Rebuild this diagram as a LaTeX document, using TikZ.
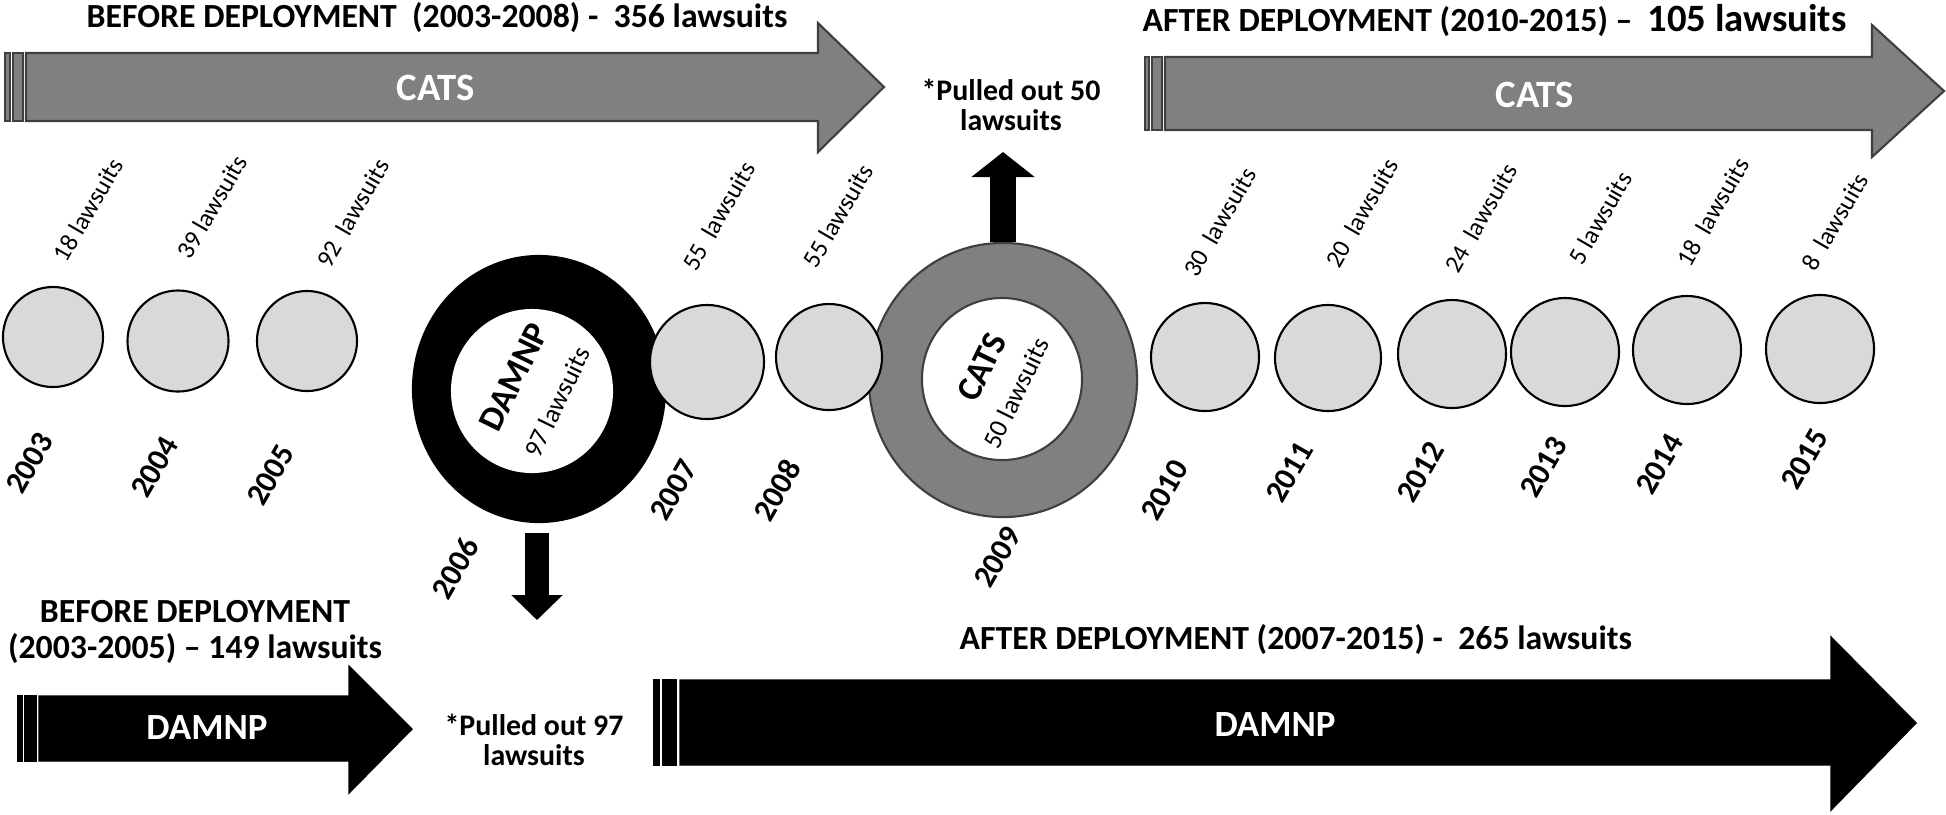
\documentclass[tikz,border=0pt]{standalone}
\usepackage{fontspec}
\setmainfont{Carlito}
\usetikzlibrary{shapes.geometric,arrows.meta}
\definecolor{lightc}{HTML}{D9D9D9}
\definecolor{midgray}{HTML}{808080}
\definecolor{edgegray}{HTML}{3F3F3F}
\begin{document}
\begin{tikzpicture}[x=0.01cm,y=-0.01cm]
\useasboundingbox (0,0) rectangle (1946,814);
\tikzset{
  yrcirc/.style={circle, draw=black, line width=0.6pt, fill=lightc, inner sep=0pt},
  yearlbl/.style={rotate=60, inner sep=0pt, font=\fontsize{9}{10}\selectfont\bfseries},
  suitlbl/.style={rotate=60, inner sep=0pt, font=\fontsize{7.2}{8}\selectfont},
  titlelbl/.style={inner sep=0pt, font=\fontsize{9.6}{10}\selectfont\bfseries},
  pulledlbl/.style={inner sep=0pt, align=center, font=\fontsize{8.5}{8.6}\selectfont\bfseries},
  arrowtxt/.style={text=white, inner sep=0pt, font=\fontsize{10.5}{12}\selectfont\bfseries},
  grayarrow/.style={fill=midgray, draw=edgegray, line width=0.6pt},
  blackarrow/.style={fill=black, draw=black, line width=0.4pt},
  blockup/.style={draw=black, line width=0.26cm, -{Triangle[width=0.62cm,length=0.25cm]}},
  blockdown/.style={draw=black, line width=0.24cm, -{Triangle[width=0.5cm,length=0.25cm]}}
}
% ---------------- top-left CATS arrow ----------------
\path[grayarrow] (5,53) rectangle (10,121);
\path[grayarrow] (13,53) rectangle (23,121);
\path[grayarrow] (26,53) -- (818,53) -- (818,23) -- (884,87) -- (818,152) -- (818,121) -- (26,121) -- cycle;
\node[arrowtxt, font=\fontsize{11}{12}\selectfont\bfseries] (cats1) at (436,88) {CATS};
\node[titlelbl, anchor=west] (title1) at (86,18) {BEFORE DEPLOYMENT\ \ (2003-2008) -\ \ 356 lawsuits};
% ---------------- top-right CATS arrow ----------------
\path[grayarrow] (1145,57) rectangle (1149,130);
\path[grayarrow] (1152,57) rectangle (1162,130);
\path[grayarrow] (1165,57) -- (1872,57) -- (1872,25) -- (1944,91) -- (1872,157) -- (1872,130) -- (1165,130) -- cycle;
\node[arrowtxt, font=\fontsize{11}{12}\selectfont\bfseries] (cats2) at (1535,95) {CATS};
\node[titlelbl, anchor=west] (title2) at (1142,20) {AFTER DEPLOYMENT (2010-2015) --\ \ {\fontsize{11}{12}\selectfont 105 lawsuits}};
% ---------------- bottom-left DAMNP arrow ----------------
\path[blackarrow] (18,696) rectangle (22,761);
\path[blackarrow] (25,696) rectangle (36,761);
\path[blackarrow] (39,696) -- (349,696) -- (349,666) -- (412,729) -- (349,793) -- (349,761) -- (39,761) -- cycle;
\node[arrowtxt] (damnp1) at (207,728) {DAMNP};
\node[titlelbl, align=center] (title3) at (195,632) {BEFORE DEPLOYMENT\\(2003-2005) -- 149 lawsuits};
% ---------------- bottom-right DAMNP arrow ----------------
\path[blackarrow] (654,680) rectangle (659,765);
\path[blackarrow] (663,680) rectangle (676,765);
\path[blackarrow] (680,680) -- (1831,680) -- (1831,637) -- (1916,723) -- (1831,810) -- (1831,765) -- (680,765) -- cycle;
\node[arrowtxt] (damnp2) at (1275,725) {DAMNP};
\node[titlelbl, anchor=west] (title4) at (959,640) {AFTER DEPLOYMENT (2007-2015) -\ \ 265 lawsuits};
% ---------------- rings ----------------
\node[ellipse, fill=black, inner sep=0pt, minimum width=2.54cm, minimum height=2.68cm] (ring06) at (539,389) {};
\node[ellipse, fill=white, inner sep=0pt, minimum width=1.62cm, minimum height=1.64cm] (in06) at (532,391) {};
\node[rotate=64, inner sep=0pt, font=\fontsize{10}{11}\selectfont\bfseries] (r06a) at (514,377) {DAMNP};
\node[rotate=64, inner sep=0pt, font=\fontsize{7.5}{8}\selectfont] (r06b) at (557,402) {97 lawsuits};
\node[ellipse, fill=midgray, draw=edgegray, line width=0.6pt, inner sep=0pt, minimum width=2.68cm, minimum height=2.74cm] (ring09) at (1003,380) {};
\node[ellipse, fill=white, draw=edgegray, line width=0.6pt, inner sep=0pt, minimum width=1.60cm, minimum height=1.62cm] (in09) at (1002,379) {};
\node[rotate=64, inner sep=0pt, font=\fontsize{10}{11}\selectfont\bfseries] (r09a) at (982,367) {CATS};
\node[rotate=64, inner sep=0pt, font=\fontsize{7.5}{8}\selectfont] (r09b) at (1016,393) {50 lawsuits};
% ---------------- year circles ----------------
\node[yrcirc, minimum size=1.00cm] (c2003) at (53,337) {};
\node[yrcirc, minimum size=1.01cm] (c2004) at (178,341) {};
\node[yrcirc, minimum size=1.00cm] (c2005) at (307,341) {};
\node[yrcirc, minimum size=1.14cm] (c2007) at (707,362) {};
\node[yrcirc, minimum size=1.06cm] (c2008) at (829,357) {};
\node[yrcirc, minimum size=1.08cm] (c2010) at (1205,357) {};
\node[yrcirc, minimum size=1.06cm] (c2011) at (1328,358) {};
\node[yrcirc, minimum size=1.08cm] (c2012) at (1452,354) {};
\node[yrcirc, minimum size=1.08cm] (c2013) at (1565,352) {};
\node[yrcirc, minimum size=1.08cm] (c2014) at (1687,350) {};
\node[yrcirc, minimum size=1.08cm] (c2015) at (1820,349) {};
% ---------------- lawsuit labels ----------------
\node[suitlbl] (s2003) at (88,210) {18 lawsuits};
\node[suitlbl] (s2004) at (212,207) {39 lawsuits};
\node[suitlbl] (s2005) at (353,213) {92\ \ lawsuits};
\node[suitlbl] (s2007) at (719,216) {55\ \ lawsuits};
\node[suitlbl] (s2008) at (838,216) {55 lawsuits};
\node[suitlbl] (s2010) at (1220,222) {30\ \ lawsuits};
\node[suitlbl] (s2011) at (1362,213) {20\ \ lawsuits};
\node[suitlbl] (s2012) at (1481,218) {24\ \ lawsuits};
\node[suitlbl] (s2013) at (1600,218) {5 lawsuits};
\node[suitlbl] (s2014) at (1713,212) {18\ \ lawsuits};
\node[suitlbl] (s2015) at (1835,222) {8\ \ lawsuits};
% ---------------- year labels ----------------
\node[yearlbl] (y2003) at (30,463) {2003};
\node[yearlbl] (y2004) at (155,467) {2004};
\node[yearlbl] (y2005) at (271,475) {2005};
\node[yearlbl] (y2006) at (455,568) {2006};
\node[yearlbl] (y2007) at (674,490) {2007};
\node[yearlbl] (y2008) at (777,490) {2008};
\node[yearlbl] (y2009) at (998,557) {2009};
\node[yearlbl] (y2010) at (1165,490) {2010};
\node[yearlbl] (y2011) at (1290,472) {2011};
\node[yearlbl] (y2012) at (1421,472) {2012};
\node[yearlbl] (y2013) at (1544,467) {2013};
\node[yearlbl] (y2014) at (1660,464) {2014};
\node[yearlbl] (y2015) at (1805,459) {2015};
% ---------------- pulled-out notes and block arrows ----------------
\node[pulledlbl] (pulled50) at (1011,105) {*Pulled out 50\\lawsuits};
\node[pulledlbl] (pulled97) at (534,740) {*Pulled out 97\\lawsuits};
\coordinate (tip50) at (1003,152);
\coordinate (tip97) at (537,620);
\draw[blockup] (ring09.north) -- (tip50);
\draw[blockdown, shorten <=0.09cm] (ring06.south -| tip97) -- (tip97);
\end{tikzpicture}
\end{document}
